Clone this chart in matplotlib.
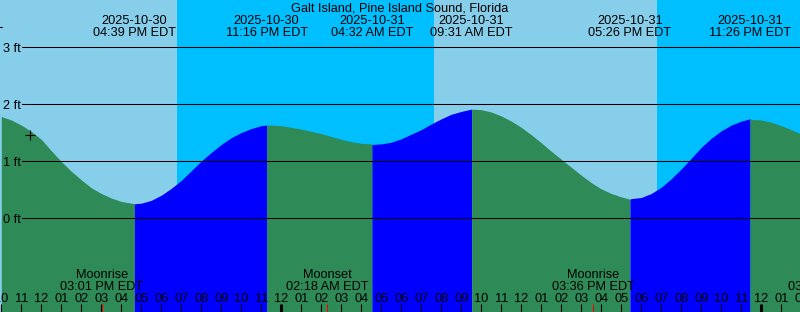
import matplotlib
matplotlib.use("Agg")
import matplotlib.pyplot as plt
import matplotlib.transforms as mtransforms
from datetime import datetime

plt.rcParams["font.family"] = ["Liberation Sans", "DejaVu Sans"]

station = "Galt Island, Pine Island Sound, Florida"
start = datetime(2025, 10, 30, 10, 0)   # first hour tick on the left

# high / low tides (local time, ft)
extreme_times = ["2025-10-30 16:39", "2025-10-30 23:16", "2025-10-31 04:32",
                 "2025-10-31 09:31", "2025-10-31 17:26", "2025-10-31 23:26"]
extreme_ft = [0.25, 1.63, 1.29, 1.91, 0.33, 1.74]

halfhour_ft = [1.78, 1.72, 1.63, 1.52, 1.38, 1.18, 0.99, 0.82, 0.67, 0.53,
               0.43, 0.35, 0.29, 0.26, 0.26, 0.31, 0.40, 0.52, 0.66, 0.83,
               1.00, 1.15, 1.29, 1.41, 1.50, 1.57, 1.62, 1.63, 1.62, 1.59,
               1.56, 1.52, 1.48, 1.43, 1.38, 1.34, 1.31, 1.30, 1.30, 1.33,
               1.39, 1.47, 1.55, 1.65, 1.74, 1.82, 1.87, 1.91, 1.90, 1.86,
               1.79, 1.70, 1.59, 1.46, 1.32, 1.17, 1.03, 0.89, 0.75, 0.62,
               0.51, 0.43, 0.37, 0.34, 0.36, 0.43, 0.54, 0.69, 0.86, 1.05,
               1.24, 1.40, 1.53, 1.63, 1.70, 1.73, 1.72, 1.68, 1.62, 1.55,
               1.47]

# sunset / sunrise switches the sky colour
sun_times = ["2025-10-30 18:47", "2025-10-31 07:37", "2025-10-31 18:46"]

moon_events = ["Moonrise", "Moonset", "Moonrise", "Moonset"]
moon_times = ["2025-10-30 15:01", "2025-10-31 02:18", "2025-10-31 15:36", "2025-11-01 03:25"]

now_time = "2025-10-30 11:27"
now_ft = 1.45

ft_levels = [0, 1, 2, 3]
n_hours = 41

DAY = "#87CEEB"
NIGHT = "#00BFFF"
FALLING = "#2E8B57"
RISING = "#0000FF"
FS = 9.2


def to_dt(s):
    return datetime.strptime(s, "%Y-%m-%d %H:%M")


def hours(s):
    return (to_dt(s) - start).total_seconds() / 3600.0


def px_y(py):
    # pixel row from the top -> axes fraction
    return 1 - py / 312.0


fig = plt.figure(figsize=(8, 3.12), dpi=100)
ax = fig.add_axes([0, 0, 1, 1])
x0, x1 = -1.3 / 20, (800 - 1.3) / 20
y0, y1 = (218 - 312) / 57.0, 218 / 57.0
ax.set_xlim(x0, x1)
ax.set_ylim(y0, y1)
ax.axis("off")
bt = mtransforms.blended_transform_factory(ax.transData, ax.transAxes)
bl = mtransforms.blended_transform_factory(ax.transAxes, ax.transData)

# sky: day / night bands
edges = [x0] + [hours(s) for s in sun_times] + [x1]
for i in range(len(edges) - 1):
    ax.axvspan(edges[i], edges[i + 1], color=DAY if i % 2 == 0 else NIGHT, lw=0, zorder=0)

# tide curve, filled down to the bottom, blue while rising, green while falling
ext_t = [hours(s) for s in extreme_times]
pts = sorted([(0.5 * j, h) for j, h in enumerate(halfhour_ft)] + list(zip(ext_t, extreme_ft)))
bounds = [pts[0][0]] + ext_t + [pts[-1][0]]
for i in range(len(bounds) - 1):
    seg = [p for p in pts if bounds[i] <= p[0] <= bounds[i + 1]]
    if i < len(ext_t):
        other = extreme_ft[i - 1] if i > 0 else extreme_ft[1]
        rising = extreme_ft[i] > other
    else:
        rising = extreme_ft[-1] < extreme_ft[-2]
    ax.fill_between([p[0] for p in seg], y0, [p[1] for p in seg],
                    color=RISING if rising else FALLING, lw=0, zorder=1)

# height grid lines and labels
for lv in ft_levels:
    ax.axhline(lv, xmin=22 / 800, xmax=1, color="black", lw=0.75, zorder=2)
    ax.text(3 / 800, lv - 5 / 57, f"{lv} ft", transform=bl, ha="left", va="baseline",
            fontsize=FS, zorder=3)
ax.axhline((218 - 27) / 57, xmin=0, xmax=2 / 800, color="black", lw=0.75, zorder=2)

ax.plot(hours(now_time), now_ft, marker="+", color="black", ms=6.5, mew=0.8, zorder=3)

# title and tide times along the top
ax.text(0.5, px_y(11.5), station, transform=ax.transAxes, ha="center", va="baseline",
        fontsize=FS, zorder=3)
for s, t in zip(extreme_times, ext_t):
    d = to_dt(s)
    ax.text(t, px_y(24), d.strftime("%Y-%m-%d"), transform=bt, ha="center",
            va="baseline", fontsize=FS, zorder=3)
    ax.text(t, px_y(36), d.strftime("%I:%M %p") + " EDT", transform=bt, ha="center",
            va="baseline", fontsize=FS, zorder=3)

# hour ticks and labels along the bottom
for k in range(n_hours):
    hr = (start.hour + k) % 24
    h12 = hr % 12 or 12
    ax.text(k, px_y(302.3), f"{h12:02d}", transform=bt, ha="center", va="baseline",
            fontsize=FS, zorder=3)
    ax.vlines(k, 0, 8 / 312, transform=bt, color="black",
              lw=2.2 if hr == 0 else 0.8, zorder=3)

# moon events
for name, s in zip(moon_events, moon_times):
    t = hours(s)
    d = to_dt(s)
    ax.text(t, px_y(278.3), name, transform=bt, ha="center", va="baseline",
            fontsize=FS, zorder=3)
    ax.text(t, px_y(290), d.strftime("%I:%M %p") + " EDT", transform=bt, ha="center",
            va="baseline", fontsize=FS, zorder=3)
    ax.vlines(t, 0, 8 / 312, transform=bt, color="red", lw=0.8, zorder=4)

fig.savefig("out.png", dpi=100)
